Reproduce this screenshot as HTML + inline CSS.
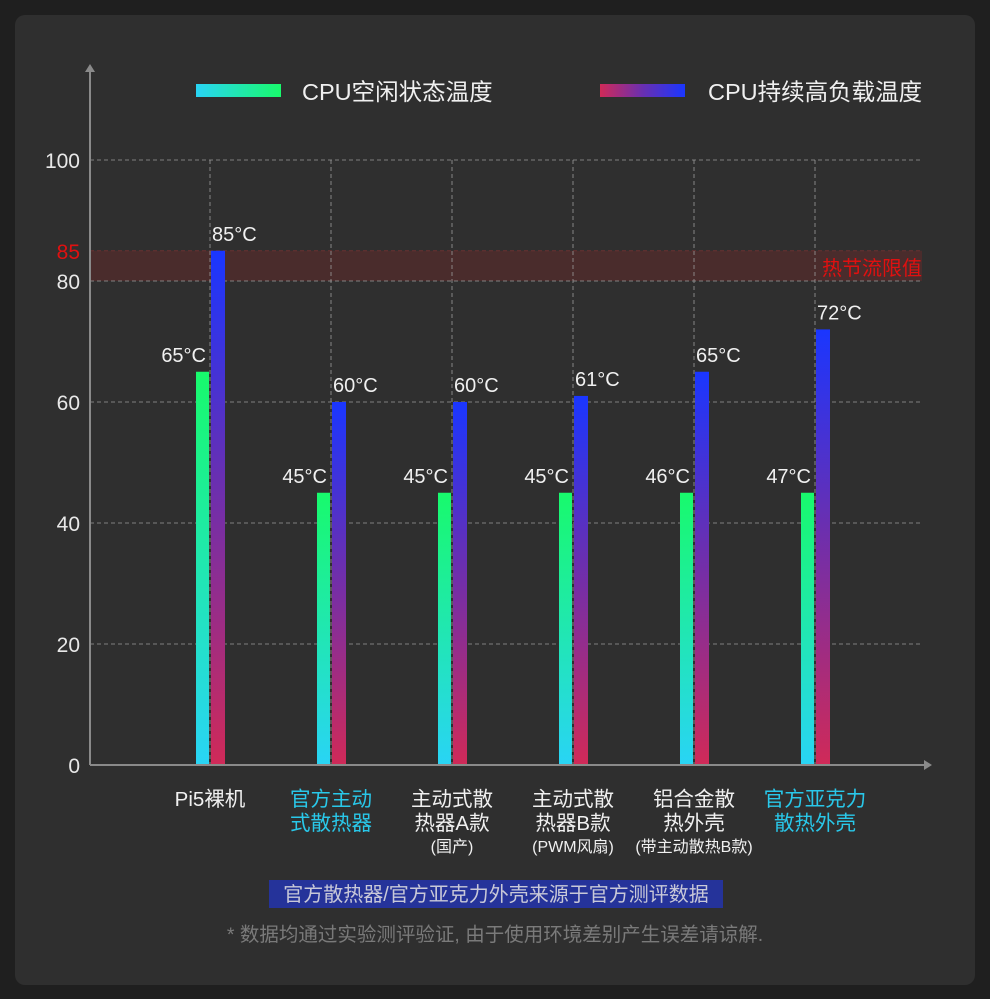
<!DOCTYPE html>
<html><head><meta charset="utf-8"><style>
body{margin:0;width:990px;height:999px;background:#1f1f1f;overflow:hidden;font-family:"Liberation Sans","Noto Sans CJK SC",sans-serif}
#card{position:absolute;left:15px;top:15px;width:960px;height:970px;background:#2f2f2f;border-radius:10px}
svg{position:absolute;left:0;top:0}
</style></head><body>
<div id="card"></div>
<svg id="chart" width="990" height="999">
<defs>
<linearGradient id="gIdle" x1="0" y1="1" x2="0" y2="0"><stop offset="0" stop-color="#29d4f5"/><stop offset="1" stop-color="#18fa6c"/></linearGradient>
<linearGradient id="gLoad" x1="0" y1="1" x2="0" y2="0"><stop offset="0" stop-color="#d02a58"/><stop offset="0.55" stop-color="#6a2fb0"/><stop offset="1" stop-color="#1a36ff"/></linearGradient>
<linearGradient id="lIdle" x1="0" y1="0" x2="1" y2="0"><stop offset="0" stop-color="#29d4f5"/><stop offset="1" stop-color="#18fa6c"/></linearGradient>
<linearGradient id="lLoad" x1="0" y1="0" x2="1" y2="0"><stop offset="0" stop-color="#d02a58"/><stop offset="0.5" stop-color="#6a2fb0"/><stop offset="1" stop-color="#1a36ff"/></linearGradient>
</defs>
</svg>
<script>
const categories=[["Pi5裸机"],["官方主动","式散热器"],["主动式散","热器A款","(国产)"],["主动式散","热器B款","(PWM风扇)"],["铝合金散","热外壳","(带主动散热B款)"],["官方亚克力","散热外壳"]];
const categoryHighlight=[false,true,false,false,false,true];
const idleValues=[65,45,45,45,45,45];
const loadValues=[85,60,60,61,65,72];
const idleLabels=["65°C","45°C","45°C","45°C","46°C","47°C"];
const loadLabels=["85°C","60°C","60°C","61°C","65°C","72°C"];
const yTicks=[0,20,40,60,80,100];

const svg=document.getElementById('chart');
const NS='http://www.w3.org/2000/svg';
const y0=765,y100=160,x0=90,xEnd=922;
const yScale=v=>y0-(v/100)*(y0-y100);
const xCenter=i=>210+i*121;
function mk(tag,attrs,text){const e=document.createElementNS(NS,tag);for(const k in attrs)e.setAttribute(k,attrs[k]);if(text!==undefined)e.textContent=text;svg.appendChild(e);return e;}

let band=mk('rect',{x:x0,y:yScale(85),width:xEnd-x0,height:yScale(80)-yScale(85),fill:'#4a2c2c'});


let bl=mk('line',{x1:x0,x2:xEnd,y1:yScale(85),y2:yScale(85),stroke:'#6a3030','stroke-dasharray':'4 3'});



yTicks.forEach(t=>{
  if(t>0){const g=mk('line',{x1:x0,x2:xEnd,y1:yScale(t),y2:yScale(t),stroke:'#9a9a9a','stroke-width':0.8,'stroke-dasharray':'4 3'});
  
  }
  const tx=mk('text',{x:80,y:yScale(t)+8,'text-anchor':'end','font-size':21,fill:'#e8e8e8'},String(t));
  
  
});
categories.forEach((c,i)=>{
  const g=mk('line',{x1:xCenter(i),x2:xCenter(i),y1:yScale(100),y2:y0,stroke:'#9a9a9a','stroke-width':0.8,'stroke-dasharray':'4 3'});
  
  
});
let t85=mk('text',{x:80,y:yScale(85)+8,'text-anchor':'end','font-size':21,fill:'#e01010'},'85');


let tl=mk('text',{x:922,y:275,'text-anchor':'end','font-size':20,fill:'#e01010'},'热节流限值');



categories.forEach((c,i)=>{
  const cx=xCenter(i);
  const b1=mk('rect',{x:cx-14,y:yScale(idleValues[i]),width:13,height:y0-yScale(idleValues[i]),fill:'url(#gIdle)'});
  
  
  const b2=mk('rect',{x:cx+1,y:yScale(loadValues[i]),width:14,height:y0-yScale(loadValues[i]),fill:'url(#gLoad)'});
  
  
  const l1=mk('text',{x:cx-4,y:yScale(idleValues[i])-10,'text-anchor':'end','font-size':20,fill:'#f0f0f0'},idleLabels[i]);
  
  
  const l2=mk('text',{x:cx+2,y:yScale(loadValues[i])-10,'text-anchor':'start','font-size':20,fill:'#f0f0f0'},loadLabels[i]);
  
  
  c.forEach((line,j)=>{
    const small=j===2;
    const t=mk('text',{x:cx,y:806+j*24-(small?2:0),'text-anchor':'middle','font-size':small?16:20.5,fill:categoryHighlight[i]?'#29c8ea':'#f0f0f0'},line);
    
    
  });
});

let ya=mk('line',{x1:x0,x2:x0,y1:70,y2:y0,stroke:'#8a8a8a','stroke-width':2});


mk('polygon',{points:'85,72 95,72 90,64',fill:'#8a8a8a'});
let xa=mk('line',{x1:x0,x2:925,y1:y0,y2:y0,stroke:'#8a8a8a','stroke-width':2});


mk('polygon',{points:'924,760 924,770 932,765',fill:'#8a8a8a'});

let lg1=mk('rect',{x:196,y:84,width:85,height:13,fill:'url(#lIdle)'});


let lt1=mk('text',{x:302,y:100,'font-size':23.5,fill:'#f0f0f0'},'CPU空闲状态温度');


let lg2=mk('rect',{x:600,y:84,width:85,height:13,fill:'url(#lLoad)'});


let lt2=mk('text',{x:708,y:100,'font-size':23.5,fill:'#f0f0f0'},'CPU持续高负载温度');



let nb=mk('rect',{x:269,y:880,width:454,height:28,fill:'#25339a'});


let nt=mk('text',{x:496,y:901,'text-anchor':'middle','font-size':20,fill:'#c8c8d8'},'官方散热器/官方亚克力外壳来源于官方测评数据');


let fn=mk('text',{x:495,y:941,'text-anchor':'middle','font-size':19.5,fill:'#7a7a7a'},'* 数据均通过实验测评验证, 由于使用环境差别产生误差请谅解.');


</script>
</body></html>
